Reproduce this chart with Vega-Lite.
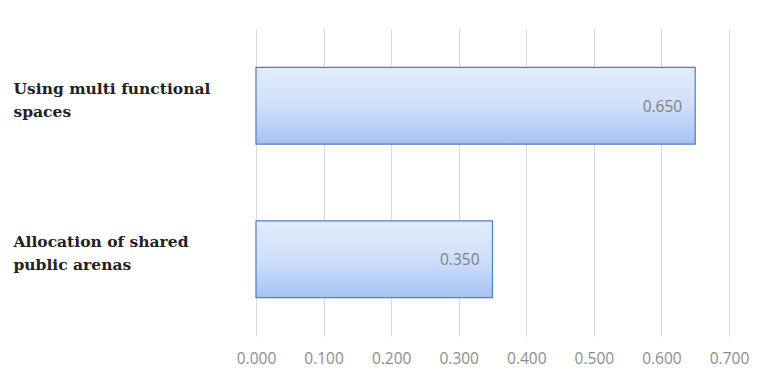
{
  "$schema": "https://vega.github.io/schema/vega-lite/v6.json",
  "width": 473,
  "height": 307,
  "padding": {"left": 13, "top": 29, "right": 5, "bottom": 10},
  "background": "white",
  "config": {"view": {"stroke": null}},
  "data": {"values": [
    {"item": "Using multi functional spaces", "value": 0.65},
    {"item": "Allocation of shared public arenas", "value": 0.35}
  ]},
  "encoding": {
    "y": {"field": "item", "type": "nominal", "sort": null,
      "scale": {"paddingInner": 0.5, "paddingOuter": 0.25},
      "axis": {"title": null, "ticks": false, "domain": false, "labelAlign": "left", "labelPadding": 243, "labelLimit": 300,
        "labelFont": "DejaVu Serif", "labelFontWeight": "bold", "labelFontSize": 15.5, "labelColor": "#222222", "labelLineHeight": 23, "labelOffset": -17,
        "labelExpr": "datum.value == 'Using multi functional spaces' ? ['Using multi functional', 'spaces'] : ['Allocation of shared', 'public arenas']"}},
    "x": {"field": "value", "type": "quantitative",
      "scale": {"domain": [0, 0.7], "nice": false},
      "axis": {"title": null, "values": [0, 0.1, 0.2, 0.3, 0.4, 0.5, 0.6, 0.7], "format": ".3f", "ticks": false, "domain": false, "labelFlush": false,
        "grid": true, "gridColor": "#d9d9d9", "labelColor": "#8c8c8c", "labelFont": "Open Sans", "labelFontSize": 15.5, "labelPadding": 15}}
  },
  "layer": [
    {"mark": {"type": "bar", "stroke": "#4f7fc2", "strokeWidth": 1.2,
      "fill": {"gradient": "linear", "x1": 0, "y1": 0, "x2": 0, "y2": 1,
        "stops": [{"offset": 0, "color": "#e2ecfc"}, {"offset": 0.5, "color": "#cfdff9"}, {"offset": 1, "color": "#a6c3f3"}]}}},
    {"mark": {"type": "text", "align": "right", "dx": -13, "dy": 1, "font": "Open Sans", "fontSize": 15.5, "color": "#808080"},
      "encoding": {"text": {"field": "value", "type": "quantitative", "format": ".3f"}}}
  ]
}
